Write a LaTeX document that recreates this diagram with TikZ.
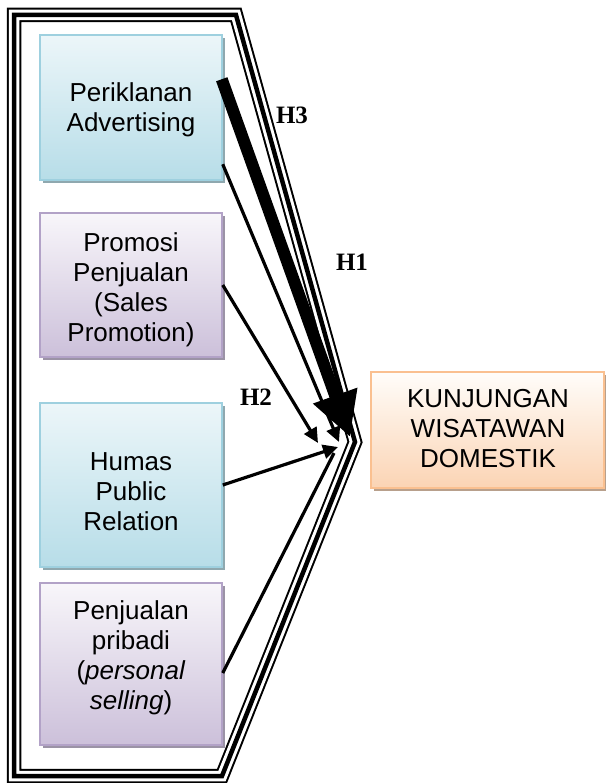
\documentclass[tikz,border=0pt]{standalone}
\usepackage{fontspec}
\setmainfont{Liberation Sans}
\newfontfamily\hfont{Liberation Serif}
\usetikzlibrary{arrows.meta,shadows,calc}

\definecolor{bluetop}{RGB}{236,246,249}
\definecolor{bluebot}{RGB}{183,221,232}
\definecolor{bluedraw}{RGB}{158,208,223}
\definecolor{bluesh}{RGB}{143,168,175}
\definecolor{purptop}{RGB}{248,246,250}
\definecolor{purpbot}{RGB}{204,192,218}
\definecolor{purpdraw}{RGB}{178,162,199}
\definecolor{purpsh}{RGB}{155,147,166}
\definecolor{peachtop}{RGB}{255,253,250}
\definecolor{peachbot}{RGB}{251,212,180}
\definecolor{peachdraw}{RGB}{250,192,144}
\definecolor{peachsh}{RGB}{184,160,140}

\begin{document}
\begin{tikzpicture}[x=1pt,y=-1pt,
  box/.style={rectangle, line width=1.5pt, inner sep=0pt},
  bluebox/.style={box, draw=bluedraw, top color=bluetop, bottom color=bluebot,
    drop shadow={shadow xshift=3pt,shadow yshift=-3pt,fill=bluesh,opacity=1}},
  purpbox/.style={box, draw=purpdraw, top color=purptop, bottom color=purpbot,
    drop shadow={shadow xshift=3pt,shadow yshift=-3pt,fill=purpsh,opacity=1}},
  peachbox/.style={box, draw=peachdraw, top color=peachtop, bottom color=peachbot,
    drop shadow={shadow xshift=3pt,shadow yshift=-3pt,fill=peachsh,opacity=1}},
  lbl/.style={font=\fontsize{26}{30}\selectfont, align=center, inner sep=0pt},
  hyp/.style={font=\hfont\bfseries\fontsize{25}{25}\selectfont, inner sep=0pt},
  arr/.style={line width=3.2pt, -{Triangle[length=15pt,width=14pt]}},
  bigarr/.style={line width=12pt, -{Triangle[length=44pt,width=44pt]}},
  framebase/.style={line width=14.5pt, line join=miter,
    postaction={draw=white, line width=10.5pt, line join=miter,
      postaction={draw=black, line width=4.5pt, line join=miter}}}
  ]
\useasboundingbox (0,0) rectangle (605,783);

% outer triple frame
\draw[framebase] (14,15) -- (236,15) -- (355,442) -- (222,776) -- (14,776) -- cycle;

% boxes
\node[bluebox, minimum width=182pt, minimum height=145pt] (b1) at (131,107.5) {};
\node[purpbox, minimum width=182pt, minimum height=144pt] (b2) at (131,285) {};
\node[bluebox, minimum width=182pt, minimum height=164pt] (b3) at (131,485) {};
\node[purpbox, minimum width=182pt, minimum height=162pt] (b4) at (131,664) {};
\node[peachbox, minimum width=233pt, minimum height=116pt] (tg) at (487.5,430) {};

% texts
\node[lbl] (l1) at (131,110) {Periklanan\\Advertising};
\node[lbl] (l2) at (131,290) {Promosi\\Penjualan\\(Sales\\Promotion)};
\node[lbl] (l3) at (131,492) {Humas\\Public\\Relation};
\node[lbl] (l4) at (131,658) {Penjualan\\pribadi\\(\textit{personal}\\\textit{selling})};
\node[lbl] (lt) at (488,429) {KUNJUNGAN\\WISATAWAN\\DOMESTIK};

% arrow tips
\coordinate (tH3) at (350,437);
\coordinate (t1) at (339,442);
\coordinate (t2) at (318,443);
\coordinate (t3) at (338,447);
\coordinate (t4) at (334,453);

% connectors
\draw[arr] ($(b1.north east)+(0,130)$) -- (t1);
\draw[arr] (b2.east) -- (t2);
\draw[arr] (b3.east) -- (t3);
\draw[line width=3.2pt] ($(b4.east)+(0,9)$) -- (t4);
\draw[bigarr] ($(b1.north east)+(-1,45)$) -- (tH3);

% hypothesis labels
\node[hyp] (h3) at (292,115) {H3};
\node[hyp] (h1) at (352,262) {H1};
\node[hyp] (h2) at (256,397) {H2};
\end{tikzpicture}
\end{document}
